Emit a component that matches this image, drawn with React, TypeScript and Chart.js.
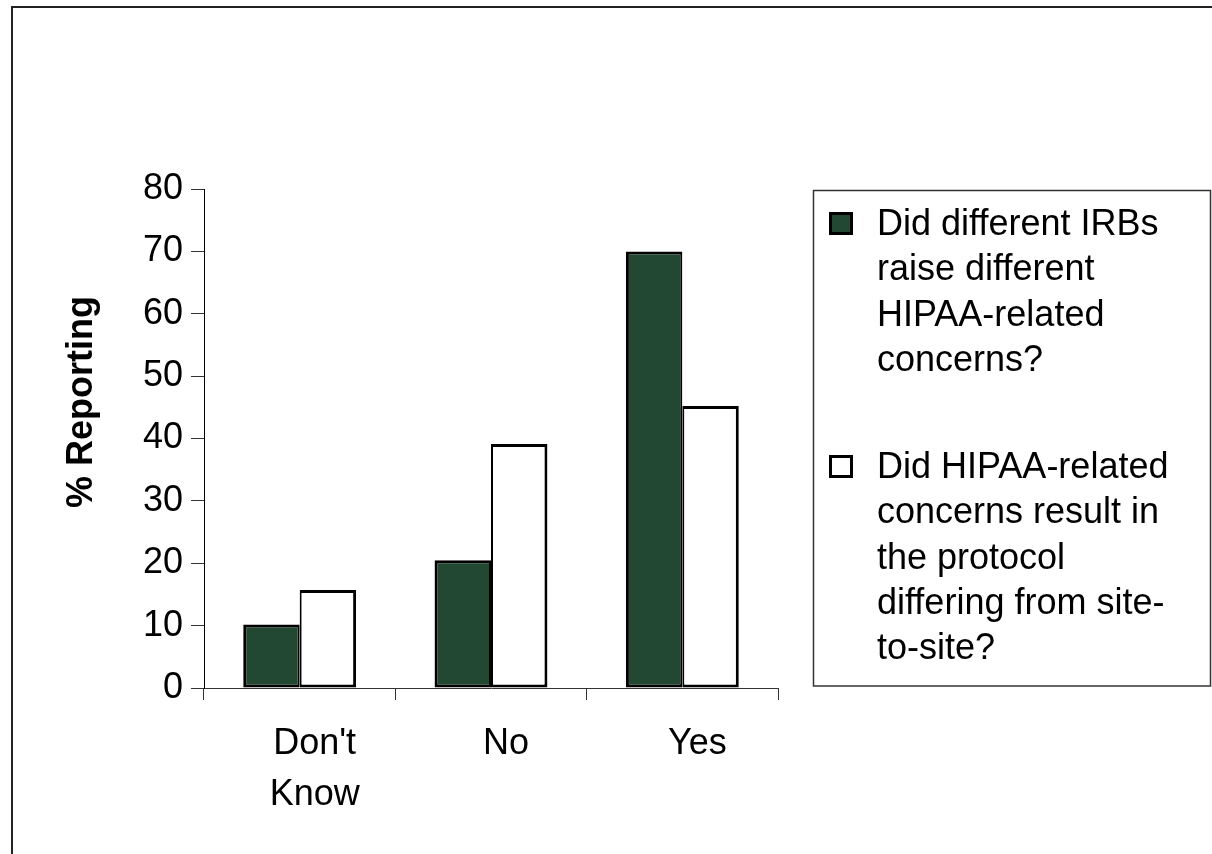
import React, { useEffect, useRef } from "react";
import { Chart, registerables } from "chart.js";

Chart.register(...registerables);

// ---- Data ----
const categories: (string | string[])[] = [["Don't", "Know"], "No", "Yes"];
const seriesNames = [
  "Did different IRBs raise different HIPAA-related concerns?",
  "Did HIPAA-related concerns result in the protocol differing from site-to-site?",
];
const differentConcerns = [10.2, 20.5, 70.0];
const protocolDiffering = [15.7, 39.1, 45.2];
const legendLinesA = ["Did different IRBs", "raise different", "HIPAA-related", "concerns?"];
const legendLinesB = ["Did HIPAA-related", "concerns result in", "the protocol", "differing from site-", "to-site?"];
const yTitle = "% Reporting";
const yMin = 0;
const yMax = 80;
const yStep = 10;

const FONT = "'Liberation Sans', Arial, Helvetica, sans-serif";
const GREEN = "#224732";

const decorPlugin = {
  id: "decor",
  beforeDraw(chart: any) {
    const ctx = chart.ctx;
    ctx.save();
    ctx.fillStyle = "#ffffff";
    ctx.fillRect(0, 0, chart.width, chart.height);
    ctx.strokeStyle = "#222";
    ctx.lineWidth = 2;
    ctx.beginPath();
    ctx.moveTo(12, chart.height + 5);
    ctx.lineTo(12, 7);
    ctx.lineTo(chart.width + 5, 7);
    ctx.stroke();
    ctx.restore();
  },
  afterDraw(chart: any) {
    const ctx = chart.ctx;
    // y-axis title
    ctx.save();
    ctx.translate(92, 402);
    ctx.rotate(-Math.PI / 2);
    ctx.font = `bold 36px ${FONT}`;
    ctx.textAlign = "center";
    ctx.textBaseline = "alphabetic";
    ctx.fillStyle = "#000";
    ctx.fillText(yTitle, 0, 0);
    ctx.restore();

    // legend box
    ctx.save();
    ctx.strokeStyle = "#333";
    ctx.lineWidth = 1.5;
    ctx.strokeRect(813.5, 190.5, 397, 495.5);

    const items = [
      { lines: legendLinesA, ds: chart.data.datasets[0], baseline: 235 },
      { lines: legendLinesB, ds: chart.data.datasets[1], baseline: 478 },
    ];
    const lineH = 45.3;
    ctx.font = `36px ${FONT}`;
    ctx.textAlign = "left";
    ctx.textBaseline = "alphabetic";
    items.forEach((it) => {
      // marker
      ctx.fillStyle = it.ds.backgroundColor;
      ctx.fillRect(829, it.baseline - 23, 24, 23);
      ctx.strokeStyle = "#000";
      ctx.lineWidth = 3;
      ctx.strokeRect(830.5, it.baseline - 21.5, 21, 20);
      ctx.fillStyle = "#000";
      it.lines.forEach((ln, i) => {
        ctx.fillText(ln, 877, it.baseline + i * lineH);
      });
    });
    ctx.restore();
  },
};

export default function App() {
  const canvasRef = useRef<HTMLCanvasElement | null>(null);

  useEffect(() => {
    if (!canvasRef.current) return;
    Chart.defaults.font.family = FONT;
    const chart = new Chart(canvasRef.current, {
      type: "bar",
      data: {
        labels: categories,
        datasets: [
          {
            label: seriesNames[0],
            data: differentConcerns,
            backgroundColor: GREEN,
            borderColor: "#000",
            borderWidth: { top: 3, left: 3, right: 2, bottom: 3 },
            borderSkipped: false,
            categoryPercentage: 0.59,
            barPercentage: 1,
          },
          {
            label: seriesNames[1],
            data: protocolDiffering,
            backgroundColor: "#ffffff",
            borderColor: "#000",
            borderWidth: { top: 3, left: 2, right: 3, bottom: 3 },
            borderSkipped: false,
            categoryPercentage: 0.59,
            barPercentage: 1,
          },
        ],
      },
      options: {
        animation: false,
        responsive: false,
        devicePixelRatio: 1,
        layout: { padding: { top: 189, right: 434, left: 0, bottom: 0 } },
        plugins: {
          legend: { display: false },
          tooltip: { enabled: false },
          title: { display: false },
        },
        scales: {
          x: {
            type: "category",
            offset: true,
            grid: {
              display: true,
              drawOnChartArea: false,
              offset: true,
              tickLength: 12,
              color: "#333",
              lineWidth: 1,
            },
            border: { display: true, color: "#333", width: 1 },
            ticks: {
              color: "#000",
              font: { size: 36, lineHeight: 1.4 },
              padding: 19,
              labelOffset: 15,
              maxRotation: 0,
              autoSkip: false,
            },
            afterFit: (s: any) => {
              s.height = 166;
            },
          },
          y: {
            min: yMin,
            max: yMax,
            ticks: {
              stepSize: yStep,
              color: "#000",
              font: { size: 36 },
              padding: 8,
            },
            grid: { drawOnChartArea: false, tickLength: 13, color: "#333", lineWidth: 1 },
            border: { display: true, color: "#000", width: 1 },
            afterFit: (s: any) => {
              s.width = 204;
            },
          },
        },
      } as any,
      plugins: [decorPlugin],
    });
    return () => chart.destroy();
  }, []);

  return (
    <div style={{ position: "absolute", left: 0, top: 0, width: 1212, height: 854, background: "#fff" }}>
      <canvas ref={canvasRef} width={1212} height={854} style={{ display: "block", width: 1212, height: 854 }} />
    </div>
  );
}
